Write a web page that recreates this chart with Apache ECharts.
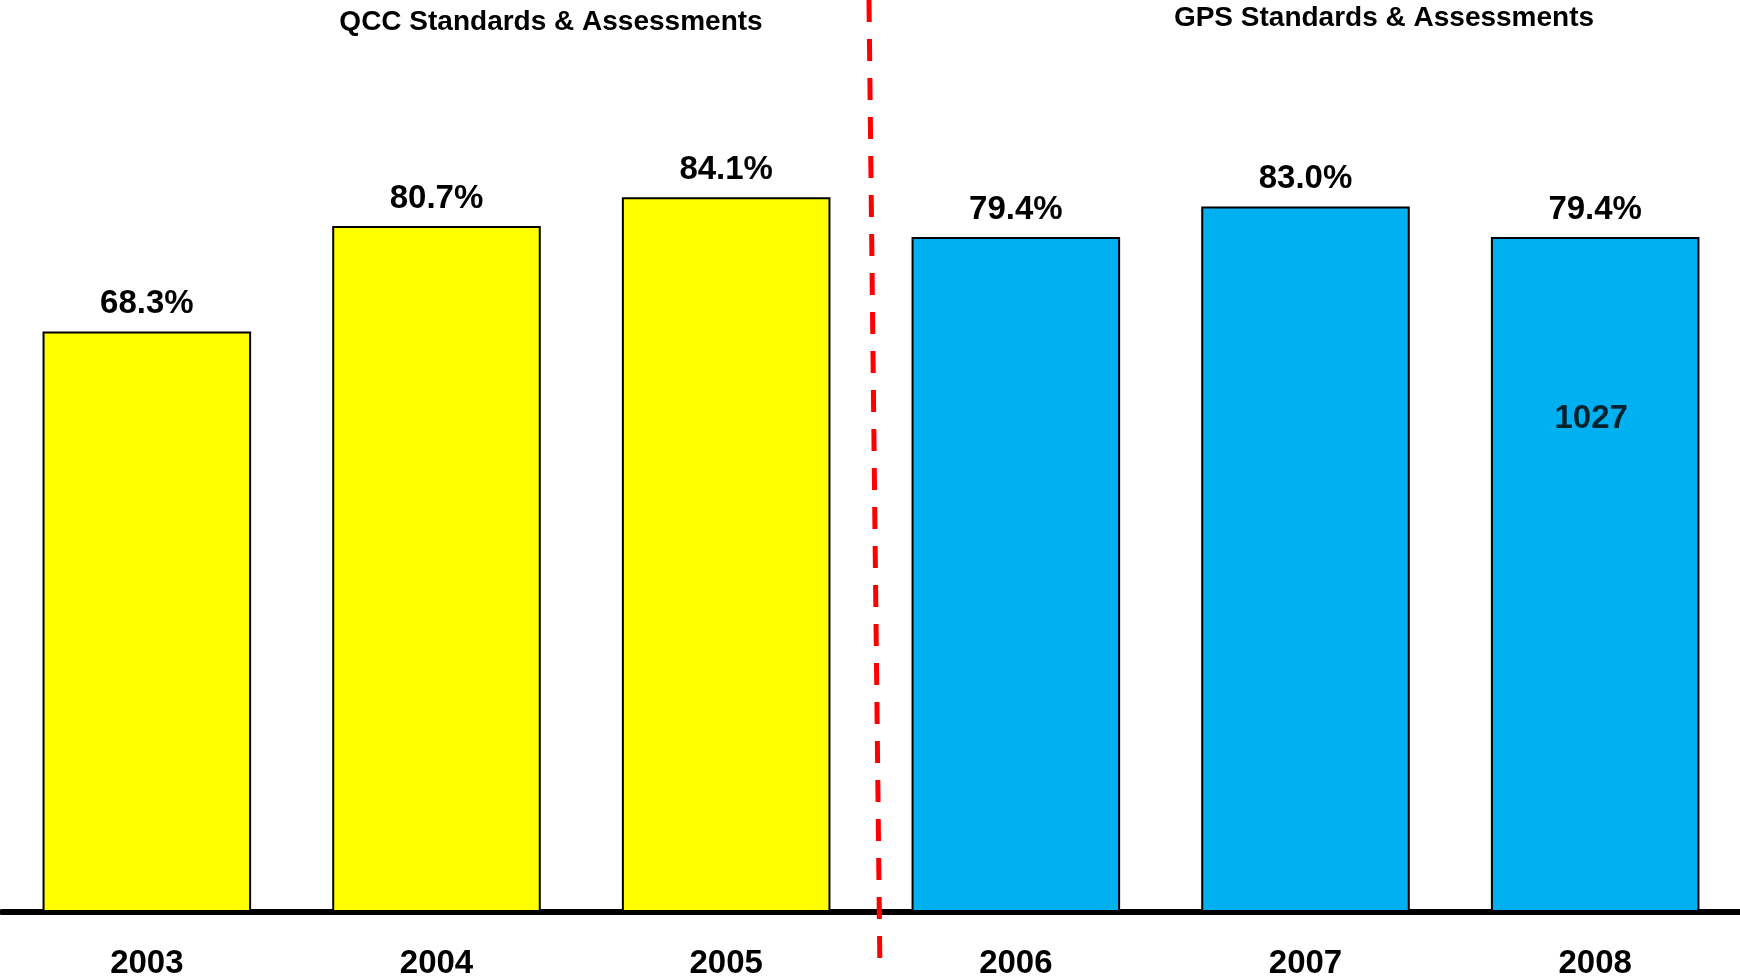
<!DOCTYPE html>
<html>
<head>
<meta charset="utf-8">
<script src="https://cdn.jsdelivr.net/npm/echarts@6/dist/echarts.min.js"></script>
<style>
html,body{margin:0;padding:0;background:#fff;}
#chart{width:1740px;height:980px;}
</style>
</head>
<body>
<div id="chart"></div>
<script>
const years = ['2003', '2004', '2005', '2006', '2007', '2008'];
const passRates = [68.3, 80.7, 84.1, 79.4, 83.0, 79.4];
const insideLabels = ['', '', '', '', '', '1027'];
const insideLabelLevel = 58.0;
const sectionTitles = ['QCC Standards & Assessments', 'GPS Standards & Assessments'];
const qccColor = '#FFFF00';
const gpsColor = '#00B0F0';

const chart = echarts.init(document.getElementById('chart'));
const font = 'Liberation Sans, Arial, sans-serif';

const barData = passRates.map((v, i) => ({
  value: v,
  itemStyle: { color: i < 3 ? qccColor : gpsColor }
}));

const scatterData = insideLabels
  .map((t, i) => t ? { value: [years[i], insideLabelLevel], name: t } : null)
  .filter(Boolean);

chart.setOption({
  animation: false,
  backgroundColor: '#ffffff',
  title: [
    { text: sectionTitles[0], left: 546, top: 3, textAlign: 'center',
      textStyle: { fontFamily: font, fontWeight: 'bold', fontSize: 28, color: '#000' } },
    { text: sectionTitles[1], left: 1379, top: -1, textAlign: 'center',
      textStyle: { fontFamily: font, fontWeight: 'bold', fontSize: 28, color: '#000' } }
  ],
  grid: { left: 2, right: -2, top: 62, bottom: 68, containLabel: false },
  xAxis: {
    type: 'category',
    data: years,
    axisLine: { show: true, lineStyle: { color: '#000', width: 6 } },
    axisTick: { show: false },
    axisLabel: { margin: 35, fontFamily: font, fontWeight: 'bold', fontSize: 33, color: '#000' }
  },
  yAxis: {
    type: 'value', min: 0, max: 100, show: false,
    splitLine: { show: false }
  },
  series: [
    {
      type: 'bar',
      data: barData,
      barCategoryGap: '28%',
      itemStyle: { borderColor: '#000', borderWidth: 2 },
      label: {
        show: true, position: 'top', distance: 11,
        formatter: p => p.value.toFixed(1) + '%',
        fontFamily: font, fontWeight: 'bold', fontSize: 33, color: '#000'
      }
    },
    {
      type: 'scatter',
      data: scatterData,
      symbolSize: 0,
      silent: true,
      label: {
        show: true, position: 'inside', offset: [-4, 0],
        formatter: p => p.name,
        fontFamily: font, fontWeight: 'bold', fontSize: 33, color: '#000'
      }
    }
  ],
  graphic: [
    {
      type: 'line',
      shape: { x1: 869, y1: 0, x2: 880, y2: 975 },
      style: { stroke: '#FF0000', lineWidth: 5, lineDash: [22, 17] },
      z: 10
    }
  ]
});
</script>
</body>
</html>
